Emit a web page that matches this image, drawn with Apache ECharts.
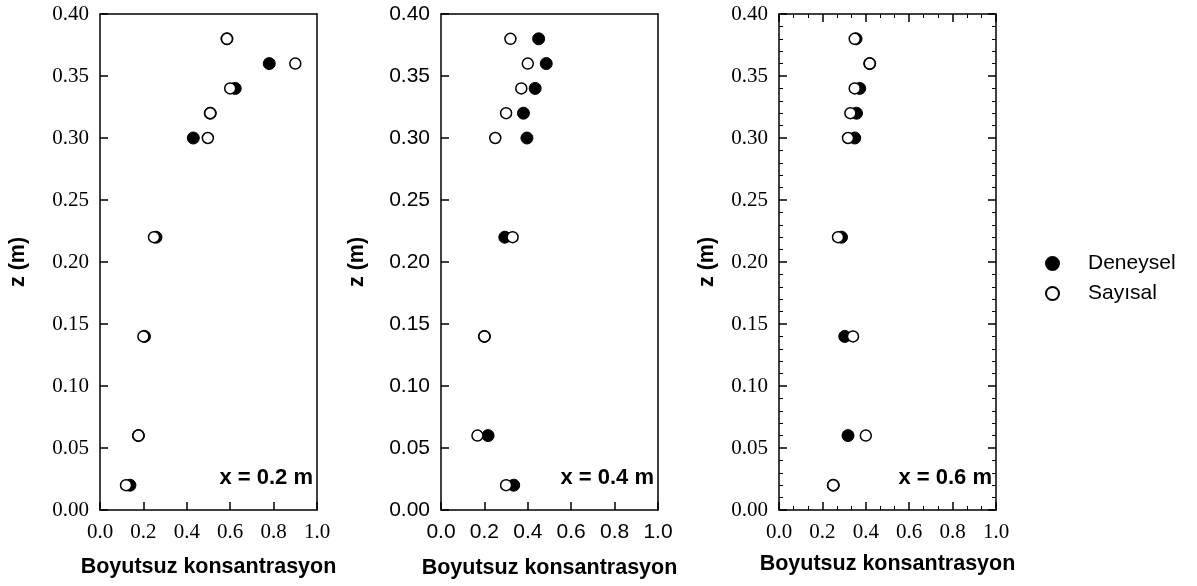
<!DOCTYPE html>
<html>
<head>
<meta charset="utf-8">
<title>Boyutsuz konsantrasyon</title>
<script src="https://cdn.jsdelivr.net/npm/echarts@6/dist/echarts.min.js"></script>
<style>
	html, body { margin: 0; padding: 0; background: #fff; }
	#chart { width: 1197px; height: 586px; }
</style>
</head>
<body>
<div id="chart"></div>
<script>
// z (m) heights shared by all three profiles
var zVals = [0.02, 0.06, 0.14, 0.22, 0.30, 0.32, 0.34, 0.36, 0.38];

// x = 0.2 m
var exp02 = [0.138, 0.177, 0.205, 0.258, 0.43, 0.508, 0.623, 0.78, 0.585];
var num02 = [0.12, 0.177, 0.20, 0.249, 0.497, 0.508, 0.60, 0.90, 0.585];
// x = 0.4 m
var exp04 = [0.335, 0.217, 0.20, 0.294, 0.396, 0.38, 0.434, 0.485, 0.45];
var num04 = [0.30, 0.168, 0.20, 0.33, 0.25, 0.30, 0.37, 0.40, 0.32];
// x = 0.6 m
var exp06 = [0.25, 0.318, 0.303, 0.288, 0.349, 0.357, 0.372, 0.418, 0.355];
var num06 = [0.25, 0.40, 0.341, 0.272, 0.318, 0.329, 0.349, 0.418, 0.349];

var panelLabels = ['x = 0.2 m', 'x = 0.4 m', 'x = 0.6 m'];
var seriesNames = ['Deneysel', 'Sayısal'];
var xTitle = 'Boyutsuz konsantrasyon';
var yTitle = 'z (m)';

var panels = [
	{ left: 100, tickFont: 'Liberation Serif', minor: false, yGap: 71, xGap: 46, exp: exp02, num: num02 },
	{ left: 441, tickFont: 'Liberation Sans', minor: false, yGap: 73, xGap: 47, exp: exp04, num: num04 },
	{ left: 779, tickFont: 'Liberation Serif', minor: true, yGap: 61, xGap: 43, exp: exp06, num: num06 }
];
var plotTop = 14, plotW = 217, plotH = 496;

function pairs(xs) {
	return xs.map((v, i) => [v, zVals[i]]);
}

function lineStyle() {
	return { color: '#000', width: 1.5 };
}

function makeAxis(p, idx, kind, pos, labels) {
	let isX = kind == 'x';
	let ax = {
		type: 'value',
		gridIndex: idx,
		position: pos,
		min: 0,
		max: isX ? 1 : 0.4,
		interval: isX ? 0.2 : 0.05,
		axisLine: { show: true, onZero: false, lineStyle: lineStyle() },
		axisTick: { show: labels || p.minor, inside: true, length: 8, lineStyle: lineStyle() },
		minorTick: { show: p.minor, splitNumber: isX ? 3 : 5, length: 4, lineStyle: { color: '#000', width: 1 } },
		splitLine: { show: false },
		axisLabel: {
			show: labels,
			color: '#000',
			fontFamily: p.tickFont,
			fontSize: 21,
			margin: isX ? 12 : 11,
			formatter: v => isX ? v.toFixed(1) : v.toFixed(2)
		}
	};
	if (labels) {
		ax.name = isX ? xTitle : yTitle;
		ax.nameLocation = 'middle';
		ax.nameGap = isX ? p.xGap : p.yGap;
		ax.nameTextStyle = { color: '#000', fontFamily: 'Liberation Sans', fontWeight: 'bold', fontSize: 21.5 };
	}
	return ax;
}

function buildOption() {
	let grid = [], xAxis = [], yAxis = [], series = [], graphic = [];
	panels.forEach((p, i) => {
		grid.push({ left: p.left, top: plotTop, width: plotW, height: plotH });
		xAxis.push(makeAxis(p, i, 'x', 'bottom', true));
		xAxis.push(makeAxis(p, i, 'x', 'top', false));
		yAxis.push(makeAxis(p, i, 'y', 'left', true));
		yAxis.push(makeAxis(p, i, 'y', 'right', false));
		series.push({
			name: seriesNames[0],
			type: 'scatter',
			xAxisIndex: i * 2,
			yAxisIndex: i * 2,
			symbol: 'circle',
			symbolSize: 12,
			itemStyle: { color: '#000', borderColor: '#000', borderWidth: 1, opacity: 1 },
			data: pairs(p.exp),
			z: 2
		});
		series.push({
			name: seriesNames[1],
			type: 'scatter',
			xAxisIndex: i * 2,
			yAxisIndex: i * 2,
			symbol: 'circle',
			symbolSize: 11,
			itemStyle: { color: '#fff', borderColor: '#000', borderWidth: 1.5, opacity: 1 },
			data: pairs(p.num),
			z: 3
		});
		graphic.push({
			type: 'text',
			x: p.left + plotW - 4,
			y: 478,
			style: {
				text: panelLabels[i],
				align: 'right',
				verticalAlign: 'middle',
				fill: '#000',
				font: 'bold 22px "Liberation Sans"'
			}
		});
	});
	return {
		animation: false,
		backgroundColor: '#fff',
		grid: grid,
		xAxis: xAxis,
		yAxis: yAxis,
		series: series,
		graphic: graphic,
		legend: {
			data: seriesNames,
			orient: 'vertical',
			left: 1040,
			top: 248,
			itemWidth: 13,
			itemHeight: 13,
			itemGap: 9,
			icon: 'circle',
			textStyle: { color: '#000', fontFamily: 'Liberation Sans', fontSize: 21, padding: [0, 0, 0, 24] }
		}
	};
}

var chart = echarts.init(document.getElementById('chart'));
chart.setOption(buildOption());
</script>
</body>
</html>
